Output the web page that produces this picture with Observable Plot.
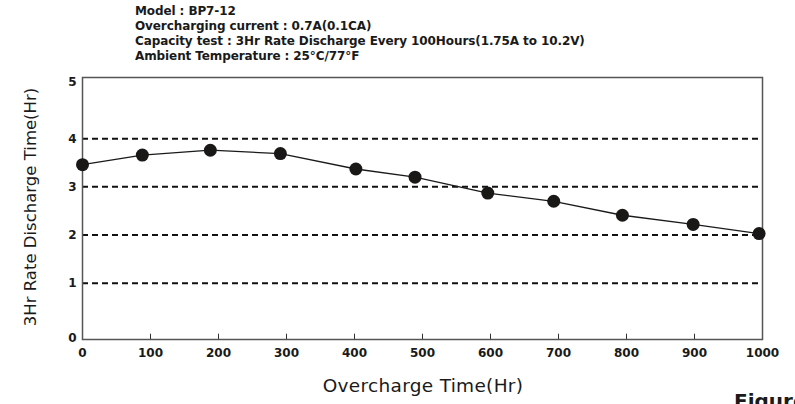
<!DOCTYPE html>
<html>
<head>
<meta charset="utf-8">
<script src="https://cdn.jsdelivr.net/npm/d3@7"></script>
<script src="https://cdn.jsdelivr.net/npm/@observablehq/plot@0.6"></script>
<style>
  html, body { margin: 0; padding: 0; background: #fff; }
  #wrap { position: relative; width: 795px; height: 404px; overflow: hidden; font-family: "DejaVu Sans", sans-serif; color: #1a1a1a; }
  #titles { position: absolute; left: 135px; top: 4px; font-weight: bold; font-size: 12px; line-height: 15px; letter-spacing: -0.1px; }
  #ytitle { position: absolute; left: 30px; top: 207px; transform: translate(-50%, -50%) rotate(-90deg); font-size: 16.5px; white-space: nowrap; }
  #xtitle { position: absolute; left: 423px; top: 385px; transform: translate(-50%, -50%); font-size: 18.5px; letter-spacing: 0.3px; white-space: nowrap; }
  #fig { position: absolute; left: 734px; top: 389px; font-weight: bold; font-size: 20px; white-space: nowrap; }
  #chart { position: absolute; left: 0; top: 0; }
</style>
</head>
<body>
<div id="wrap">
  <div id="chart"></div>
  <div id="titles"></div>
  <div id="ytitle">3Hr Rate Discharge Time(Hr)</div>
  <div id="xtitle">Overcharge Time(Hr)</div>
  <div id="fig">Figure</div>
</div>
<script>
const titleLines = [
  "Model : BP7-12",
  "Overcharging current : 0.7A(0.1CA)",
  "Capacity test : 3Hr Rate Discharge Every 100Hours(1.75A to 10.2V)",
  "Ambient Temperature : 25\u00B0C/77\u00B0F"
];
const overchargeHours = [0, 88, 188, 291, 402, 489, 596, 693, 794, 898, 995];
const dischargeHours = [3.46, 3.66, 3.76, 3.69, 3.37, 3.20, 2.87, 2.70, 2.41, 2.22, 2.03];
const xTicks = [0, 100, 200, 300, 400, 500, 600, 700, 800, 900, 1000];
const yTicks = [1, 2, 3, 4];
const yTickTop = [5];
const yTickBottom = [0];
const gridValues = [1, 2, 3, 4];

document.getElementById("titles").innerHTML = titleLines.map(t => `<div>${t}</div>`).join("");

const data = overchargeHours.map((x, i) => ({x, y: dischargeHours[i]}));
const yLo = -0.17, yHi = 5.27;
const tickOpts = {tickSize: 0, tickPadding: 6, fontSize: 12, fontWeight: "bold", label: null};

const chart = Plot.plot({
  width: 795,
  height: 404,
  marginLeft: 82,
  marginRight: 33,
  marginTop: 77,
  marginBottom: 65,
  style: {fontFamily: "DejaVu Sans, sans-serif", color: "#1a1a1a", background: "transparent"},
  x: {domain: [0, 1000]},
  y: {domain: [yLo, yHi]},
  marks: [
    Plot.ruleY(gridValues, {stroke: "#111", strokeWidth: 2, strokeDasharray: "6,4"}),
    Plot.frame({stroke: "#555", strokeWidth: 1.5}),
    Plot.ruleX(xTicks.slice(1, -1), {y1: yLo, y2: yLo + 0.11, stroke: "#333", strokeWidth: 1}),
    Plot.axisX(xTicks, {tickSize: 0, tickPadding: 9, fontSize: 12, fontWeight: "bold", label: null, tickFormat: d => String(d)}),
    Plot.axisY(yTicks, tickOpts),
    Plot.axisY(yTickTop, {...tickOpts, dy: -8}),
    Plot.axisY(yTickBottom, {...tickOpts, dy: 7}),
    Plot.line(data, {x: "x", y: "y", stroke: "#1a1a1a", strokeWidth: 1.3}),
    Plot.dot(data, {x: "x", y: "y", r: 6.5, fill: "#1a1717", stroke: "none"})
  ]
});
document.getElementById("chart").appendChild(chart);
</script>
</body>
</html>
